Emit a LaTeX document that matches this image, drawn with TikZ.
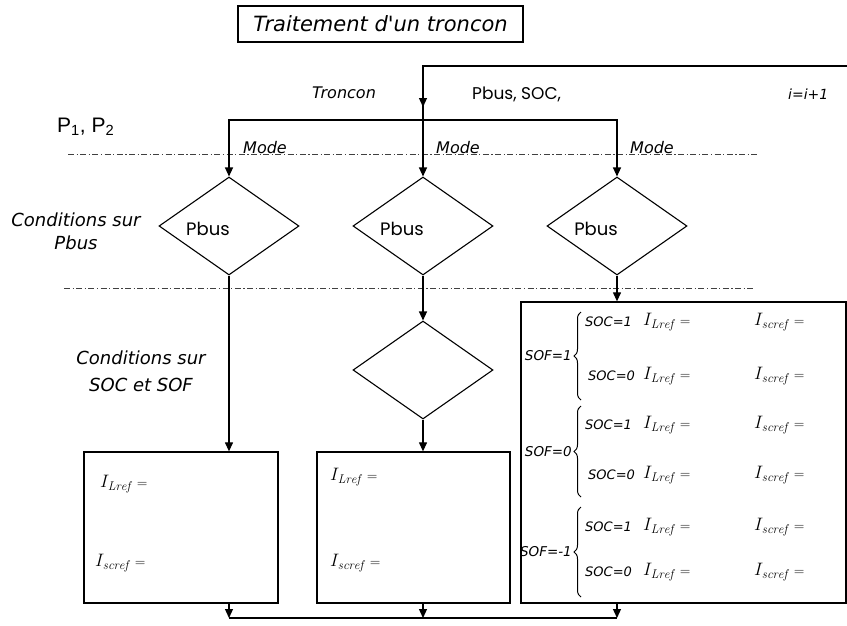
\documentclass[tikz,border=0pt]{standalone}
\usepackage{fix-cm}
\usepackage{fontspec}
\usetikzlibrary{shapes.geometric,arrows.meta,decorations.pathreplacing}
\newfontfamily\cfont{DejaVu Sans}
\newfontfamily\gfont{Poppins}
\newfontfamily\afont{Liberation Sans}
\newcommand\fsz[1]{\fontsize{#1}{#1}\selectfont}
\newcommand\ILref{$I_{\mathit{Lref}}$\hspace{6pt}{\fsz{14}=}}
\newcommand\Iscref{$I_{\mathit{scref}}$\hspace{6pt}{\fsz{14}=}}
\tikzset{
  conn/.style={line width=1.2pt,-{Triangle[length=9pt,width=8pt]}},
  plainline/.style={line width=1.2pt},
  ddline/.style={line width=0.9pt,black!75,dash pattern=on 6pt off 2.5pt on 1.2pt off 2.5pt},
  dia/.style={draw,shape=diamond,minimum width=140pt,minimum height=98pt,inner sep=0pt,line width=1.1pt},
  boxnode/.style={draw,rectangle,line width=1.3pt,inner sep=0pt},
  itl/.style={font=\cfont\itshape\fsz{#1},inner sep=0pt},
  gtl/.style={font=\gfont\fsz{#1},inner sep=0pt},
  mth/.style={font=\fsz{18},inner sep=0pt,anchor=west},
  brc/.style={decorate,decoration={brace,amplitude=7pt},line width=1pt},
}
\begin{document}
\begin{tikzpicture}[x=1pt,y=-1pt]
\useasboundingbox (0,0) rectangle (847,625);
% title
\node[boxnode,line width=1.5pt,minimum width=285pt,minimum height=36pt,font=\cfont\itshape\fsz{21}] (title) at (380.5,24) {Traitement d'un troncon};
% diamonds
\node[dia] (d1) at (229,226) {};
\node[dia] (d2) at (423,226) {};
\node[dia] (d3) at (617,226) {};
\node[dia] (d4) at (423,370) {};
\node[gtl=18] (p1) at (208,229) {Pbus};
\node[gtl=18] (p2) at (402,229) {Pbus};
\node[gtl=18] (p3) at (596,229) {Pbus};
% boxes
\node[boxnode,minimum width=194pt,minimum height=151pt] (b1) at (181,527.5) {};
\node[boxnode,minimum width=193pt,minimum height=151pt] (b2) at (413.5,527.5) {};
\node[boxnode,minimum width=325pt,minimum height=301pt] (b3) at (683.5,452.5) {};
% coordinates
\coordinate (topR) at (847,66);
\coordinate (J) at (423,120);
\coordinate (tA) at (423,107);
\coordinate (BL) at (229,618);
\coordinate (BM) at (423,618);
\coordinate (BR) at (617,618);
\coordinate (dl1a) at (68,154);
\coordinate (dl1b) at (758,154);
\coordinate (dl2a) at (64,288);
\coordinate (dl2b) at (753,288);
% dash-dot separators
\draw[ddline] (dl1a) -- (dl1b);
\draw[ddline] (dl2a) -- (dl2b);
% top loop
\draw[plainline] (topR) -| (J);
\draw[conn] (topR -| J) -- (tA);
\draw[conn] (J) -| (d1.north);
\draw[conn] (J) -- (d2.north);
\draw[conn] (J) -| (d3.north);
% down connectors
\draw[conn] (d1.south) -- (d1.south |- b1.north);
\draw[conn] (d2.south) -- (d4.north);
\draw[conn] (d4.south) -- (d4.south |- b2.north);
\draw[conn] (d3.south) -- (d3.south |- b3.north);
\draw[conn] (BL |- b1.south) -- (BL);
\draw[conn] (BM |- b2.south) -- (BM);
\draw[conn] (BR |- b3.south) -- (BR);
\draw[plainline] (BL) -- (BR);
% labels
\node[itl=16,anchor=base west] (m1) at (243,153) {Mode};
\node[itl=16,anchor=base west] (m2) at (436,153) {Mode};
\node[itl=16,anchor=base west] (m3) at (630,153) {Mode};
\node[itl=16,anchor=base] (tr) at (344,98) {Troncon};
\node[gtl=17,anchor=base west] (ps) at (472,99) {Pbus, SOC,};
\node[itl=14,anchor=base west] (ii) at (788,99) {i=i+1};
\node[font=\afont\fsz{21},inner sep=0pt,anchor=base west] (pp) at (57,132) {P\textsubscript{1}, P\textsubscript{2}};
\node[inner sep=0pt,align=center,font={\cfont\itshape\fontsize{18}{23}\selectfont}] (c1) at (76,231) {Conditions sur\\Pbus};
\node[inner sep=0pt,align=center,font={\cfont\itshape\fontsize{18}{27}\selectfont}] (c2) at (141,371) {Conditions sur\\SOC et SOF};
% left and middle box contents
\node[mth] (l1) at (100,484) {\ILref};
\node[mth] (l2) at (95,563) {\Iscref};
\node[mth] (m1a) at (330,477) {\ILref};
\node[mth] (m2a) at (330,563) {\Iscref};
% right box contents
\coordinate (br1a) at (581,400); \coordinate (br1b) at (581,312);
\coordinate (br2a) at (581,497); \coordinate (br2b) at (581,406);
\coordinate (br3a) at (581,597); \coordinate (br3b) at (581,507);
\draw[brc] (br1a) -- (br1b);
\draw[brc] (br2a) -- (br2b);
\draw[brc] (br3a) -- (br3b);
\node[itl=13.5,anchor=east] (f1) at (572,356) {SOF=1};
\node[itl=13.5,anchor=east] (f2) at (572,452) {SOF=0};
\node[itl=13.5,anchor=east] (f3) at (572,552) {SOF=-1};
\node[itl=13,anchor=west] (s1) at (585,322) {SOC=1};
\node[itl=13,anchor=west] (s2) at (588,376) {SOC=0};
\node[itl=13,anchor=west] (s3) at (585,425) {SOC=1};
\node[itl=13,anchor=west] (s4) at (588,475) {SOC=0};
\node[itl=13,anchor=west] (s5) at (585,527) {SOC=1};
\node[itl=13,anchor=west] (s6) at (585,572) {SOC=0};
\foreach \r/\yy in {1/322,2/376,3/425,4/475,5/527,6/572}{
  \node[mth] (rl\r) at (643,\yy) {\ILref};
  \node[mth] (rs\r) at (754,\yy) {\Iscref};
}
\end{tikzpicture}
\end{document}
